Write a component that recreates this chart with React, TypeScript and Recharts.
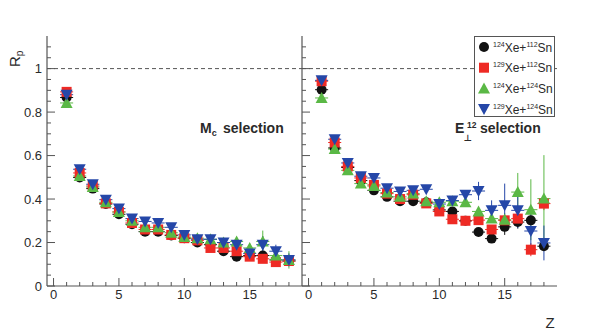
import React from 'react';
import { ScatterChart, Scatter, XAxis, YAxis, ErrorBar, ReferenceLine, Legend } from 'recharts';

// charge Z of the fragment
const zValues = [1, 2, 3, 4, 5, 6, 7, 8, 9, 10, 11, 12, 13, 14, 15, 16, 17, 18];

const xTicks = [0, 1, 2, 3, 4, 5, 6, 7, 8, 9, 10, 11, 12, 13, 14, 15, 16, 17, 18];
const yTicks = [0, 0.05, 0.1, 0.15, 0.2, 0.25, 0.3, 0.35, 0.4, 0.45, 0.5, 0.55, 0.6, 0.65, 0.7, 0.75, 0.8, 0.85, 0.9, 0.95, 1, 1.05, 1.1];

const systems = [
  { a1: '124', a2: '112', color: '#111111', marker: 'circle' },
  { a1: '129', a2: '112', color: '#ee2a24', marker: 'square' },
  { a1: '124', a2: '124', color: '#5ab845', marker: 'up' },
  { a1: '129', a2: '124', color: '#2547a8', marker: 'down' },
];

// Mc selection
const mcXe124Sn112 = [0.867, 0.499, 0.448, 0.377, 0.33, 0.284, 0.25, 0.25, 0.232, 0.22, 0.2, 0.19, 0.16, 0.135, 0.14, 0.14, 0.12, 0.115];
const mcXe129Sn112 = [0.893, 0.52, 0.46, 0.38, 0.341, 0.29, 0.26, 0.26, 0.235, 0.22, 0.21, 0.175, 0.175, 0.16, 0.135, 0.125, 0.11, 0.115];
const mcXe124Sn124 = [0.842, 0.506, 0.455, 0.385, 0.34, 0.3, 0.27, 0.27, 0.245, 0.225, 0.22, 0.215, 0.2, 0.205, 0.175, 0.205, 0.14, 0.12];
const mcXe129Sn124 = [0.88, 0.537, 0.468, 0.397, 0.356, 0.31, 0.297, 0.29, 0.27, 0.235, 0.215, 0.215, 0.2, 0.19, 0.15, 0.19, 0.16, 0.12];

const mcErrXe124Sn112 = [0.01, 0.008, 0.008, 0.008, 0.008, 0.008, 0.008, 0.008, 0.008, 0.008, 0.008, 0.01, 0.01, 0.012, 0.012, 0.015, 0.015, 0.015];
const mcErrXe129Sn112 = [0.01, 0.008, 0.008, 0.008, 0.008, 0.008, 0.008, 0.008, 0.008, 0.008, 0.008, 0.01, 0.01, 0.012, 0.012, 0.015, 0.015, 0.015];
const mcErrXe124Sn124 = [0.012, 0.01, 0.01, 0.01, 0.01, 0.01, 0.01, 0.01, 0.01, 0.01, 0.012, 0.015, 0.015, 0.02, 0.02, 0.05, 0.025, 0.04];
const mcErrXe129Sn124 = [0.01, 0.008, 0.008, 0.008, 0.008, 0.008, 0.008, 0.01, 0.01, 0.01, 0.01, 0.012, 0.015, 0.015, 0.02, 0.04, 0.03, 0.03];

// E_perp12 selection
const etXe124Sn112 = [0.903, 0.635, 0.545, 0.485, 0.44, 0.41, 0.39, 0.39, 0.385, 0.35, 0.343, 0.3, 0.248, 0.218, 0.272, 0.294, 0.302, 0.183];
const etXe129Sn112 = [0.942, 0.66, 0.55, 0.497, 0.465, 0.425, 0.4, 0.42, 0.38, 0.343, 0.307, 0.3, 0.303, 0.26, 0.302, 0.31, 0.167, 0.379];
const etXe124Sn124 = [0.865, 0.63, 0.532, 0.471, 0.46, 0.43, 0.41, 0.425, 0.39, 0.385, 0.39, 0.385, 0.343, 0.31, 0.305, 0.432, 0.351, 0.402];
const etXe129Sn124 = [0.946, 0.675, 0.566, 0.505, 0.497, 0.45, 0.435, 0.44, 0.445, 0.377, 0.393, 0.42, 0.437, 0.348, 0.371, 0.348, 0.253, 0.198];

const etErrXe124Sn112 = [0.01, 0.01, 0.01, 0.01, 0.01, 0.01, 0.01, 0.01, 0.01, 0.012, 0.012, 0.012, 0.015, 0.015, 0.037, 0.03, 0.02, 0.02];
const etErrXe129Sn112 = [0.01, 0.01, 0.01, 0.01, 0.01, 0.01, 0.01, 0.01, 0.01, 0.012, 0.012, 0.012, 0.015, 0.015, 0.02, 0.03, 0.03, 0.03];
const etErrXe124Sn124 = [0.012, 0.01, 0.01, 0.01, 0.01, 0.01, 0.01, 0.012, 0.012, 0.012, 0.015, 0.015, 0.02, 0.02, 0.03, 0.088, 0.14, 0.2];
const etErrXe129Sn124 = [0.01, 0.01, 0.01, 0.01, 0.01, 0.01, 0.012, 0.012, 0.012, 0.015, 0.015, 0.02, 0.042, 0.046, 0.1, 0.08, 0.1, 0.08];

const frameColor = '#555555';
const labelColor = '#2a2a2a';
const fontFamily = '"Liberation Sans", Arial, Helvetica, sans-serif';

const toPoints = (vals: number[], errs: number[]) =>
  zValues.map((z, i) => ({ z, r: vals[i], ey: errs[i], ex: 0.5 }));

const mcSeries = [
  toPoints(mcXe124Sn112, mcErrXe124Sn112),
  toPoints(mcXe129Sn112, mcErrXe129Sn112),
  toPoints(mcXe124Sn124, mcErrXe124Sn124),
  toPoints(mcXe129Sn124, mcErrXe129Sn124),
];
const etSeries = [
  toPoints(etXe124Sn112, etErrXe124Sn112),
  toPoints(etXe129Sn112, etErrXe129Sn112),
  toPoints(etXe124Sn124, etErrXe124Sn124),
  toPoints(etXe129Sn124, etErrXe129Sn124),
];

const Marker = ({ kind, cx, cy, fill }: { kind: string; cx: number; cy: number; fill: string }) => {
  if (cx == null || cy == null) return null;
  if (kind === 'circle') return <circle cx={cx} cy={cy} r={5} fill={fill} />;
  if (kind === 'square') return <rect x={cx - 5} y={cy - 5} width={10} height={10} fill={fill} />;
  if (kind === 'up')
    return <polygon points={`${cx},${cy - 6} ${cx + 6},${cy + 5} ${cx - 6},${cy + 5}`} fill={fill} />;
  return <polygon points={`${cx},${cy + 6} ${cx + 6},${cy - 5} ${cx - 6},${cy - 5}`} fill={fill} />;
};

const renderXTick = (props: any) => {
  const { x, y, payload } = props;
  const v = payload.value;
  const major = v % 5 === 0;
  return (
    <g>
      <line x1={x} x2={x} y1={y} y2={y - (major ? 8 : 4)} stroke={frameColor} />
      {major && (
        <text x={x} y={y + 13} textAnchor="middle" fontSize={13} fill={labelColor} fontFamily={fontFamily}>
          {v}
        </text>
      )}
    </g>
  );
};

const makeYTick = (showLabels: boolean) => (props: any) => {
  const { x, y, payload } = props;
  const v = payload.value;
  const major = Math.abs(v * 5 - Math.round(v * 5)) < 1e-6;
  return (
    <g>
      <line x1={x} x2={x + (major ? 8 : 4)} y1={y} y2={y} stroke={frameColor} />
      {showLabels && major && (
        <text x={x - 5} y={y + 4.5} textAnchor="end" fontSize={13} fill={labelColor} fontFamily={fontFamily}>
          {String(Number(v.toFixed(1)))}
        </text>
      )}
    </g>
  );
};

const LegendBox = () => (
  <div
    style={{
      width: 81,
      height: 81,
      border: `1px solid ${frameColor}`,
      background: '#fff',
      overflow: 'hidden',
      boxSizing: 'border-box',
    }}
  >
    <svg width={81} height={81} style={{ display: 'block' }}>
      {systems.map((s, i) => {
        const cy = 10 + i * 20.7;
        return (
          <g key={i}>
            <Marker kind={s.marker} cx={9} cy={cy} fill={s.color} />
            <text x={18} y={cy + 4.5} fontSize={12} fill={labelColor} fontFamily={fontFamily}>
              <tspan fontSize={7} dy={-5}>{s.a1}</tspan>
              <tspan dy={5}>Xe+</tspan>
              <tspan fontSize={7} dy={-5}>{s.a2}</tspan>
              <tspan dy={5}>Sn</tspan>
            </text>
          </g>
        );
      })}
    </svg>
  </div>
);

type PanelProps = {
  series: { z: number; r: number; ey: number; ex: number }[][];
  left: number;
  showYLabels: boolean;
  children?: React.ReactNode;
  legend?: boolean;
};

const Panel = ({ series, left, showYLabels, children, legend }: PanelProps) => (
  <div style={{ position: 'absolute', left, top: 0 }}>
    <ScatterChart width={302} height={331} margin={{ top: 36, right: 0, bottom: 0, left: 0 }}>
      <XAxis
        type="number"
        dataKey="z"
        domain={[-0.5, 19]}
        ticks={xTicks}
        interval={0}
        allowDataOverflow
        height={45}
        tickSize={0}
        tickMargin={0}
        tick={renderXTick}
        axisLine={{ stroke: frameColor, strokeWidth: 1.2 }}
      />
      <XAxis
        xAxisId="top"
        type="number"
        orientation="top"
        domain={[-0.5, 19]}
        height={0}
        tick={false}
        tickLine={false}
        axisLine={{ stroke: frameColor, strokeWidth: 1.2 }}
      />
      <YAxis
        type="number"
        dataKey="r"
        domain={[0, 1.15]}
        ticks={yTicks}
        interval={0}
        allowDataOverflow
        width={47}
        tickSize={0}
        tickMargin={0}
        tick={makeYTick(showYLabels)}
        axisLine={{ stroke: frameColor, strokeWidth: 1.2 }}
      />
      <YAxis
        yAxisId="frame"
        type="number"
        orientation="right"
        domain={[0, 1.15]}
        width={0}
        tick={false}
        tickLine={false}
        axisLine={{ stroke: frameColor, strokeWidth: 1.2 }}
      />
      <ReferenceLine y={1} stroke={frameColor} strokeDasharray="4 3" />
      {series.map((pts, i) => (
        <Scatter
          key={i}
          name={`${systems[i].a1}Xe+${systems[i].a2}Sn`}
          data={pts}
          fill={systems[i].color}
          isAnimationActive={false}
          shape={(p: any) => <Marker kind={systems[i].marker} cx={p.cx} cy={p.cy} fill={systems[i].color} />}
        >
          <ErrorBar dataKey="ex" direction="x" width={0} stroke={systems[i].color} strokeWidth={1} isAnimationActive={false} />
          <ErrorBar dataKey="ey" direction="y" width={0} stroke={systems[i].color} strokeWidth={1} isAnimationActive={false} />
        </Scatter>
      ))}
      {legend && (
        <Legend
          layout="vertical"
          align="center"
          verticalAlign="middle"
          content={() => <LegendBox />}
          wrapperStyle={{ left: 219, top: 36, width: 81, height: 81 }}
        />
      )}
      {children}
    </ScatterChart>
  </div>
);

export default function App() {
  return (
    <div
      style={{
        position: 'absolute',
        left: 0,
        top: 0,
        width: 600,
        height: 331,
        background: '#fff',
        fontFamily,
      }}
    >
      <Panel series={mcSeries} left={0} showYLabels>
        <text transform="translate(20,67) rotate(-90)" fontSize={15} fill={labelColor} fontFamily={fontFamily}>
          R<tspan fontSize={10} dy={3}>p</tspan>
        </text>
        <text x={200} y={133} fontSize={14} fontWeight="bold" fill={labelColor} fontFamily={fontFamily}>
          M<tspan fontSize={9} dy={3}>c</tspan>
        </text>
        <text x={223} y={133} fontSize={14} fontWeight="bold" fill={labelColor} fontFamily={fontFamily}>
          selection
        </text>
      </Panel>
      <Panel series={etSeries} left={255} showYLabels={false} legend>
        <text x={200} y={133} fontSize={14} fontWeight="bold" fill={labelColor} fontFamily={fontFamily}>
          E
        </text>
        <text x={208.5} y={141} fontSize={9} fontWeight="bold" fill={labelColor} fontFamily='"DejaVu Sans", sans-serif'>
          ⊥
        </text>
        <text x={212} y={128} fontSize={8.5} fontWeight="bold" fill={labelColor} fontFamily={fontFamily}>
          12
        </text>
        <text x={225} y={133} fontSize={14} fontWeight="bold" fill={labelColor} fontFamily={fontFamily}>
          selection
        </text>
        <text x={295} y={328} textAnchor="middle" fontSize={15} fill={labelColor} fontFamily={fontFamily}>
          Z
        </text>
      </Panel>
    </div>
  );
}
